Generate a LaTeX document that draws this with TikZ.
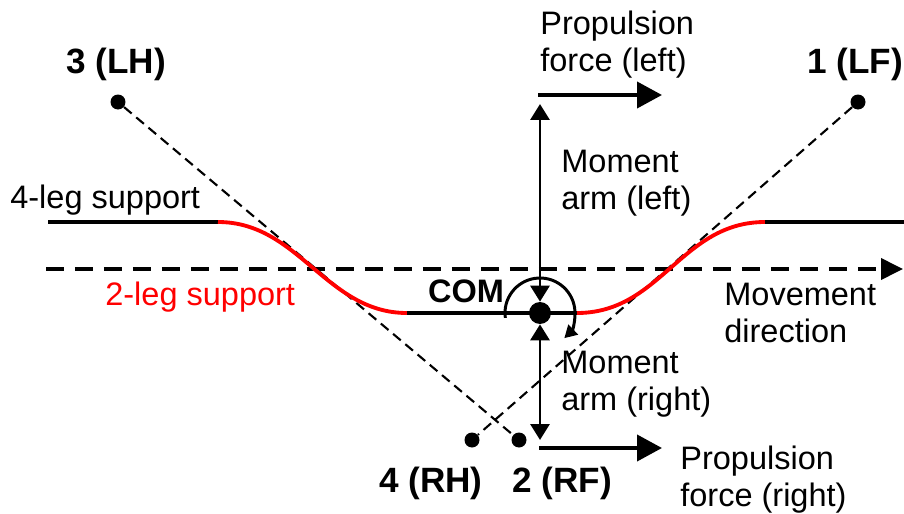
\documentclass[tikz,border=0pt]{standalone}
\usepackage{fontspec}
\setmainfont{Liberation Sans}
\usetikzlibrary{arrows.meta,positioning,calc}

\begin{document}
\begin{tikzpicture}[x=0.02cm,y=-0.02cm,
    txt/.style={font=\fontsize{18.5}{21}\selectfont, align=left, inner sep=0pt},
    legname/.style={font=\bfseries\fontsize{20}{24}\selectfont, inner sep=0pt},
    foot/.style={circle, fill=black, inner sep=0pt, minimum size=0.3cm},
    footline/.style={line width=1.2pt, dash pattern=on 0.2cm off 0.12cm},
    support/.style={line width=2.2pt},
    force/.style={line width=2.3pt, -{Triangle[length=0.5cm,width=0.52cm]}},
    arm/.style={line width=1.7pt, {Triangle[length=0.32cm,width=0.38cm]}-{Triangle[length=0.32cm,width=0.38cm]}}]
            \useasboundingbox (0,0) rectangle (904,514);

            % feet
            \node[foot] (LH) at (118,102) {};
            \node[foot] (LF) at (858,102) {};
            \node[foot] (RH) at (472,440) {};
            \node[foot] (RF) at (519,440) {};

            \node[legname] (LHname) at (116,64) {3 (LH)};
            \node[legname] (LFname) at (855,64) {1 (LF)};
            \node[legname] (RHname) at (431,483) {4 (RH)};
            \node[legname] (RFname) at (562,483) {2 (RF)};

            \draw[footline] (LH) -- (RF);
            \draw[footline] (LF) -- (RH);

            % movement direction
            \coordinate (M1) at (46,269);
            \coordinate (M2) at (903,269);
            \draw[line width=2.2pt, dash pattern=on 0.36cm off 0.22cm,
                  -{Triangle[length=0.44cm,width=0.42cm]}] (M1) -- (M2);

            % support line
            \coordinate (S1) at (48,222);
            \coordinate (S2) at (218,222);
            \coordinate (S3) at (407,313);
            \coordinate (S4) at (577,313);
            \coordinate (S5) at (765,222);
            \coordinate (S6) at (904,222);
            \draw[support] (S1) -- (S2);
            \draw[support, red] (S2) .. controls (299,222) and (326,313) .. (S3);
            \draw[support] (S3) -- (S4);
            \draw[support, red] (S4) .. controls (661,313) and (681,222) .. (S5);
            \draw[support] (S5) -- (S6);

            % COM and moment arms
            \node[circle, fill=black, inner sep=0pt, minimum size=0.44cm] (COM) at (540,313) {};
            \node[font=\bfseries\fontsize{18.5}{21}\selectfont, inner sep=0pt] (COMname) at (466,291) {COM};
            \draw[line width=1.7pt, -{Triangle[length=0.25cm,width=0.27cm]}]
                (COM) ++(188:0.7cm) arc[start angle=188, end angle=-46, radius=0.7cm];

            \coordinate (armtop) at (540,104);
            \coordinate (armbot) at (540,440);
            \draw[arm] (armtop) -- (COM);
            \draw[arm] (COM) -- (armbot);

            \coordinate (PL1) at (538,95);
            \coordinate (PL2) at (662,95);
            \coordinate (PR1) at (539,448);
            \coordinate (PR2) at (662,448);
            \draw[force] (PL1) -- (PL2);
            \draw[force] (PR1) -- (PR2);

            % texts
            \node[txt, anchor=west] (propL) at (540,45) {Propulsion\\force (left)};
            \node[txt, anchor=west] (armL) at (561,183) {Moment\\arm (left)};
            \node[txt, anchor=west] (four) at (10,200) {4-leg support};
            \node[txt, anchor=west, text=red] (two) at (105,297) {2-leg support};
            \node[txt, anchor=west] (move) at (724,313) {Movement\\direction};
            \node[txt, anchor=west] (armR) at (561,384) {Moment\\arm (right)};
            \node[txt, anchor=west] (propR) at (680,480) {Propulsion\\force (right)};
\end{tikzpicture}
\end{document}
